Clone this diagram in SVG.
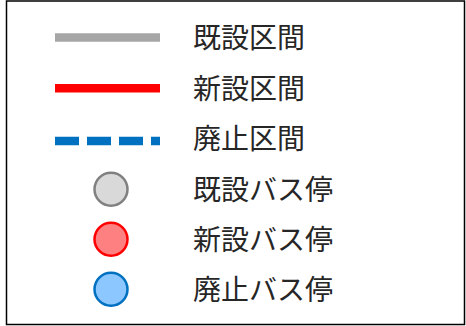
<svg xmlns="http://www.w3.org/2000/svg" width="466" height="326" viewBox="0 0 466 326">
<style>
.lbl{font-family:"Noto Sans CJK JP","Noto Sans CJK SC",sans-serif;font-size:28px;fill:#262626}
.ln{fill:none;stroke-width:8.5}
.stop{stroke-width:2.5}
</style>
<rect x="0" y="0" width="466" height="326" fill="#ffffff"/>
<rect x="6.5" y="1" width="458" height="323.5" fill="#ffffff" stroke="#000000" stroke-width="1.5"/>
<g id="connectors">
<line class="ln" x1="55" y1="37.5" x2="160" y2="37.5" stroke="#a6a6a6"/>
<line class="ln" x1="55" y1="88.3" x2="160" y2="88.3" stroke="#ff0000"/>
<line class="ln" x1="55" y1="141" x2="160" y2="141" stroke="#0070c0" stroke-dasharray="24 8"/>
</g>
<g id="legend-existing-route"><text class="lbl" x="193" y="48">既設区間</text></g>
<g id="legend-new-route"><text class="lbl" x="193" y="98.5">新設区間</text></g>
<g id="legend-removed-route"><text class="lbl" x="193" y="149">廃止区間</text></g>
<g id="legend-existing-stop">
<circle class="stop" cx="111" cy="189.3" r="16.5" fill="#d9d9d9" stroke="#808080"/>
<text class="lbl" x="193" y="199.5">既設バス停</text>
</g>
<g id="legend-new-stop">
<circle class="stop" cx="111" cy="239.3" r="16.5" fill="#ff8080" stroke="#ff0000"/>
<text class="lbl" x="193" y="249.5">新設バス停</text>
</g>
<g id="legend-removed-stop">
<circle class="stop" cx="111" cy="289.3" r="16.5" fill="#8cc8ff" stroke="#0070c0"/>
<text class="lbl" x="193" y="299.5">廃止バス停</text>
</g>
</svg>
